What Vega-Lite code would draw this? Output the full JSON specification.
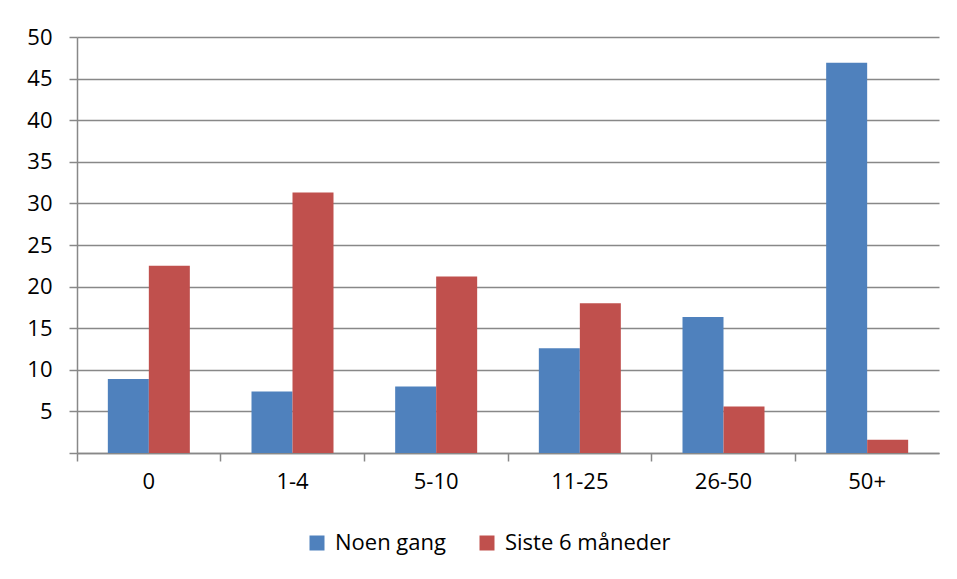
{
  "$schema": "https://vega.github.io/schema/vega-lite/v6.json",
  "autosize": {"type": "none"},
  "width": 862,
  "height": 416,
  "padding": {"left": 77, "top": 37, "right": 18, "bottom": 126},
  "background": "white",
  "config": {
    "font": "Open Sans",
    "view": {"stroke": null},
    "axis": {"labelFont": "Open Sans", "labelFontSize": 22, "labelColor": "#000000", "domainColor": "#888888", "tickColor": "#888888", "gridColor": "#888888", "domainWidth": 1.5, "tickWidth": 1.5, "gridWidth": 1.5}
  },
  "data": {
    "values": [
      {"kategori": "0", "serie": "Noen gang", "verdi": 8.9},
      {"kategori": "0", "serie": "Siste 6 måneder", "verdi": 22.5},
      {"kategori": "1-4", "serie": "Noen gang", "verdi": 7.4},
      {"kategori": "1-4", "serie": "Siste 6 måneder", "verdi": 31.3},
      {"kategori": "5-10", "serie": "Noen gang", "verdi": 8.0},
      {"kategori": "5-10", "serie": "Siste 6 måneder", "verdi": 21.2},
      {"kategori": "11-25", "serie": "Noen gang", "verdi": 12.6},
      {"kategori": "11-25", "serie": "Siste 6 måneder", "verdi": 18.0},
      {"kategori": "26-50", "serie": "Noen gang", "verdi": 16.35},
      {"kategori": "26-50", "serie": "Siste 6 måneder", "verdi": 5.6},
      {"kategori": "50+", "serie": "Noen gang", "verdi": 46.9},
      {"kategori": "50+", "serie": "Siste 6 måneder", "verdi": 1.6}
    ]
  },
  "mark": {"type": "bar"},
  "encoding": {
    "x": {
      "field": "kategori",
      "type": "nominal",
      "sort": ["0", "1-4", "5-10", "11-25", "26-50", "50+"],
      "scale": {"paddingInner": 0, "paddingOuter": 0},
      "axis": {"title": null, "labelAngle": 0, "bandPosition": 0, "labelOffset": 0, "tickSize": 8, "labelPadding": 10, "grid": false}
    },
    "xOffset": {
      "field": "serie",
      "type": "nominal",
      "scale": {"paddingInner": 0, "paddingOuter": 0.752}
    },
    "y": {
      "field": "verdi",
      "type": "quantitative",
      "scale": {"domain": [0, 50], "nice": false},
      "axis": {"title": null, "values": [0, 5, 10, 15, 20, 25, 30, 35, 40, 45, 50], "labelExpr": "datum.value == 0 ? '' : datum.label", "tickSize": 8, "labelPadding": 17, "grid": true, "gridCap": "butt"}
    },
    "color": {
      "field": "serie",
      "type": "nominal",
      "scale": {"domain": ["Noen gang", "Siste 6 måneder"], "range": ["#4F81BD", "#C0504D"]},
      "legend": {"title": null, "orient": "none", "legendX": 229, "legendY": 495, "direction": "horizontal", "symbolType": "square", "symbolSize": 225, "symbolStrokeWidth": 0, "symbolOpacity": 1, "labelFont": "Open Sans", "labelFontSize": 22, "labelColor": "#000000", "labelOffset": 7, "labelLimit": 400, "columnPadding": 30}
    }
  }
}
